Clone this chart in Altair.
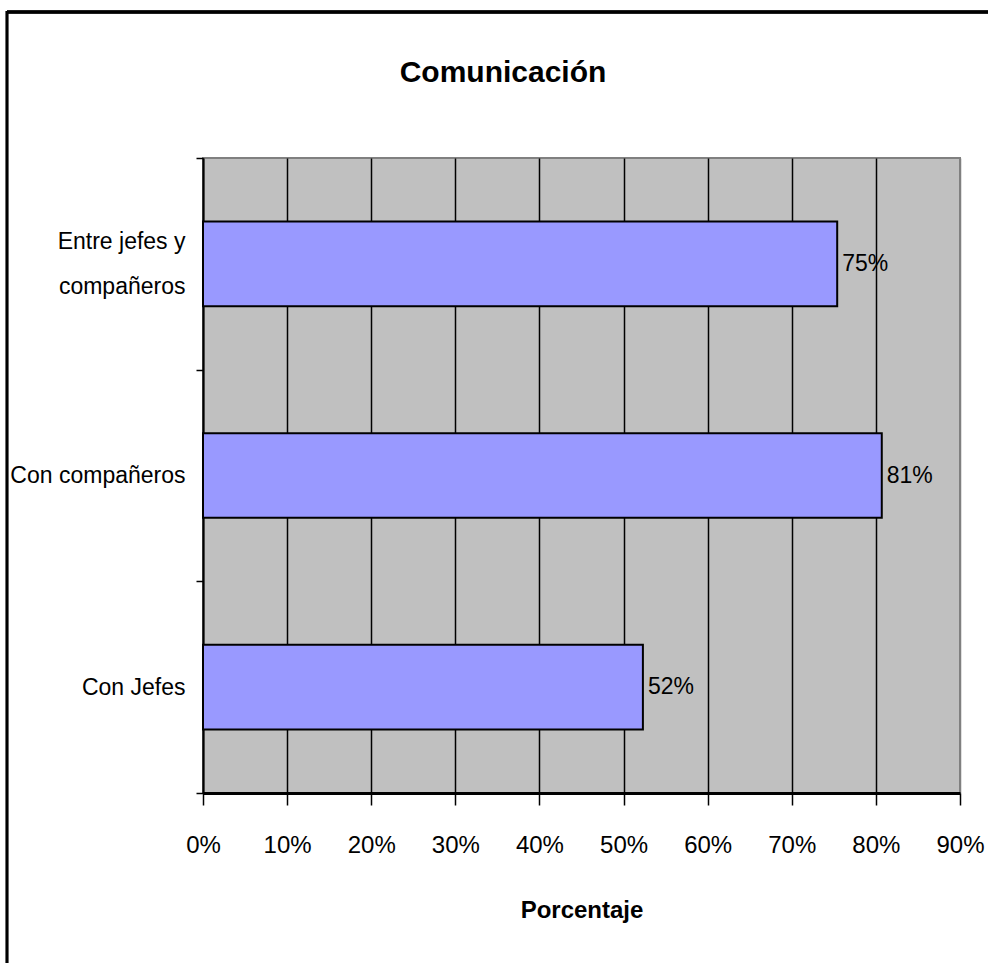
import altair as alt
import pandas as pd

# Survey results: share of respondents rating each communication channel
categories = ["Entre jefes y compañeros", "Con compañeros", "Con Jefes"]
values = [0.754, 0.807, 0.523]

x_ticks = [0.0, 0.1, 0.2, 0.3, 0.4, 0.5, 0.6, 0.7, 0.8, 0.9]

chart_title = "Comunicación"
x_title = "Porcentaje"

df = pd.DataFrame({"categoria": categories, "valor": values})
title_df = pd.DataFrame({"texto": [chart_title]})

FONT = "Liberation Sans Narrow, Arial Narrow, Liberation Sans, Arial, sans-serif"
LABEL_SIZE = 23

x_enc = alt.X(
    "valor:Q",
    scale=alt.Scale(domain=[0, 0.9], nice=False, zero=True),
    axis=alt.Axis(
        title=x_title,
        values=x_ticks,
        format=".0%",
        grid=True,
        gridColor={"condition": {"test": "datum.value >= 0.89", "value": "#808080"},
                   "value": "#000000"},
        gridWidth=1.5,
        domainColor="#000000",
        domainWidth=3,
        tickColor="#000000",
        tickWidth=1.5,
        tickSize=12,
        labelPadding=28,
        labelFontSize=24,
        labelColor="#000000",
        labelFont=FONT,
        labelOverlap=False,
        labelFlush=False,
        titleFont=FONT,
        titleFontSize=24,
        titleFontWeight="bold",
        titleColor="#000000",
        titleBaseline="alphabetic",
        titleY=124,
    ),
)

y_enc = alt.Y(
    "categoria:N",
    sort=categories,
    scale=alt.Scale(paddingInner=0, paddingOuter=0),
    axis=alt.Axis(
        title=None,
        grid=False,
        tickBand="extent",
        domainColor="#000000",
        domainWidth=2,
        tickColor="#000000",
        tickWidth=1.5,
        tickSize=7,
        labelPadding=11,
        labelFontSize=LABEL_SIZE,
        labelColor="#000000",
        labelFont=FONT,
        labelLimit=400,
        labelLineHeight=45,
        labelOffset={"condition": {"test": "datum.value == 'Entre jefes y compañeros'",
                                   "value": -22},
                     "value": 0},
        labelExpr="datum.label == 'Entre jefes y compañeros' ? ['Entre jefes y', 'compañeros'] : datum.label",
    ),
)

bars = alt.Chart(df).mark_bar(
    color="#9999FF", stroke="#000000", strokeWidth=2,
    height=alt.RelativeBandSize(0.4),
).encode(x=x_enc, y=y_enc)

labels = alt.Chart(df).mark_text(
    align="left", baseline="middle", dx=5, fontSize=LABEL_SIZE, font=FONT, color="#000000"
).encode(
    x="valor:Q",
    y=alt.Y("categoria:N", sort=categories),
    text=alt.Text("valor:Q", format=".0%"),
)

title = alt.Chart(title_df).mark_text(
    align="center", baseline="alphabetic", fontSize=30, fontWeight="bold",
    font=FONT, color="#000000",
).encode(x=alt.value(300), y=alt.value(-76), text="texto:N")

# outer frame of the chart area (top and left edges)
frame_top = alt.Chart(df).mark_rule(color="#000000", strokeWidth=3).encode(
    x=alt.value(-196), x2=alt.value(800), y=alt.value(-146)
)
frame_left = alt.Chart(df).mark_rule(color="#000000", strokeWidth=2.5).encode(
    x=alt.value(-196), y=alt.value(-147), y2=alt.value(820)
)

chart = alt.layer(bars, labels, title, frame_top, frame_left).properties(
    width=757,
    height=635,
    autosize=alt.AutoSizeParams(type="none"),
    padding={"left": 203, "top": 158, "right": 28, "bottom": 170},
    background="#FFFFFF",
).configure_view(
    fill="#C0C0C0", stroke="#808080", strokeWidth=2
)

chart.save("out.html", embed_options={"renderer": "svg", "actions": False})
